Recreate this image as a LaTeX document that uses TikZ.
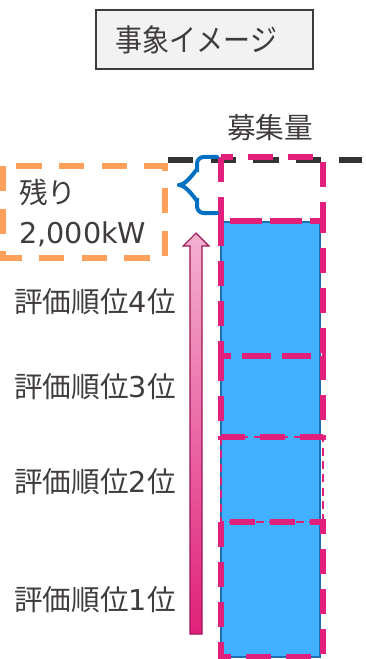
\documentclass[tikz,border=0pt]{standalone}
\usepackage{fontspec}
\usepackage{graphicx}
\setmainfont{Noto Sans CJK JP}
\newfontfamily\latinfont{DejaVu Sans}
\usepackage{tikz}

\definecolor{txtgray}{RGB}{64,60,60}
\definecolor{boxblue}{RGB}{64,176,255}
\definecolor{edgeblue}{RGB}{30,110,180}
\definecolor{slotpink}{RGB}{224,32,122}
\definecolor{restorange}{RGB}{255,160,90}
\definecolor{bracecol}{RGB}{0,112,192}

\newcommand{\rankname}[1]{評価順位{\latinfont #1}位}

\tikzset{
  label text/.style={text=txtgray, font=\fontsize{21.5}{30}\selectfont, inner sep=0pt},
  slot thick/.style={draw=slotpink, line width=4pt, dash pattern=on 19pt off 11pt},
  slot thin/.style={draw=slotpink, line width=1.5pt, dash pattern=on 6pt off 4pt},
}

\begin{document}
\begin{tikzpicture}[x=0.75pt, y=-0.75pt]
		\useasboundingbox (0,0) rectangle (366,659);

		% title
		\node[draw=txtgray, line width=1.2pt, fill=gray!10, minimum width=163pt, minimum height=44pt,
		  text=txtgray, font=\fontsize{23}{26}\selectfont] (title) at (204.5,39.5)
		  {\scalebox{0.88}[1]{事象イメージ}\hspace*{12pt}};

		\node[label text] (quota) at (270,128) {募集量};

		% recruitment line
		\coordinate (lineL) at (168,160);
		\coordinate (lineR) at (362,160);
		\draw[draw=black!80, line width=3.8pt, dash pattern=on 19pt off 13pt] (lineL) -- (lineR);

		% column
		\filldraw[fill=boxblue, draw=edgeblue, line width=1pt] (221,222) rectangle (320,657);

		% pink slots
		\draw[slot thick] (221,157) rectangle (323,221);
		\draw[slot thick] (221,221) rectangle (323,356);
		\draw[slot thick] (221,356) rectangle (323,437);
		\draw[slot thin] (221,437) rectangle (323,522);
		\draw[slot thick] (221,522) rectangle (323,657);

		% brace
		\coordinate (braceT) at (217,157);
		\coordinate (braceB) at (217,213);
		\coordinate (braceTip) at (179,185);
		\draw[bracecol, line width=3pt, line cap=round, rounded corners=5pt]
		  (braceT) -- (197,157) -- (197,176) to[out=90,in=0] (braceTip);
		\draw[bracecol, line width=3pt, line cap=round, rounded corners=5pt]
		  (braceTip) to[out=0,in=-90] (197,194) -- (197,213) -- (braceB);

		% remaining
		\draw[restorange, line width=4pt, dash pattern=on 19pt off 13pt] (3,166) rectangle (165,258);
		\node[label text, anchor=north west, align=left] (rest) at (19,179) {残り\\{\latinfont 2,000kW}};

		% ranking arrow
		\path[draw=slotpink!70!black, line width=0.8pt, top color=slotpink!35, bottom color=slotpink]
		  (190,634) -- (190,246) -- (183,246) -- (196,233) -- (209,246) -- (202,246) -- (202,634) -- cycle;

		% rank labels
		\node[label text, anchor=east] (rank4) at (176,302) {\rankname{4}};
		\node[label text, anchor=east] (rank3) at (176,387) {\rankname{3}};
		\node[label text, anchor=east] (rank2) at (176,482) {\rankname{2}};
		\node[label text, anchor=east] (rank1) at (176,600) {\rankname{1}};
\end{tikzpicture}
\end{document}
